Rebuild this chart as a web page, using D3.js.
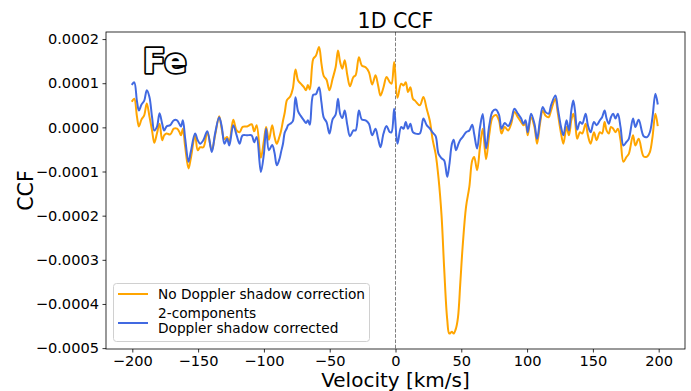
<!DOCTYPE html>
<html>
<head>
<meta charset="utf-8">
<script src="https://cdn.jsdelivr.net/npm/d3@7"></script>
<style>
  html, body { margin: 0; padding: 0; background: #fff; }
  svg { display: block; font-family: "DejaVu Sans", sans-serif; }
</style>
</head>
<body>
<svg id="chart" width="691" height="391"></svg>
<script>
// CCF values are stored in units of 1e-4
const UNIT = 1e-4;

const velocity = [
  -200,-198.5,-196.5,-195,-193,-191,-189,-187,-185,-183.3,
  -181.3,-179.3,-177.3,-175.8,-174,-171.2,-168.5,-166,-164.3,-163,
  -161.6,-159.8,-157.3,-155.6,-152.3,-150.3,-148.5,-146,-143,-139.6,
  -137.1,-134,-132,-130,-128,-126.3,-123.3,-120.7,-118.5,-116.2,
  -112.8,-109.3,-107.4,-105.5,-102.3,-100,-98.3,-96.2,-93.7,-91.9,
  -90.2,-88.1,-86.9,-85.5,-84.2,-82.6,-81.6,-80,-78,-76,
  -74,-72,-69.6,-68,-66.6,-65.1,-62.5,-60.5,-58.1,-56.3,
  -54.5,-52.4,-50.2,-47.8,-45.5,-43.7,-42.1,-40.4,-38.6,-36.6,
  -34.6,-32,-30.3,-27.8,-25.6,-22.7,-20.2,-17.7,-15.2,-13.2,
  -11.4,-9.1,-6.8,-4.3,-3,-1,1.5,4.3,6.1,7.8,
  9.5,11.3,13.2,15,18.5,21.2,23.7,26,28.3,30.5,
  32.7,35,37,39.3,40.9,42.9,44.2,46,47.5,49.3,
  51,53.6,56.1,58.3,59.8,62,64.2,66.3,68.8,71.3,
  73.8,76.4,78.7,80.6,83,85.6,87.9,90.4,93,95.5,
  97.2,98.8,100.5,103,105.6,107.6,109.8,111.9,113.9,116.4,
  118.2,121.5,123.2,125.8,127.6,130,131.8,133.6,135.1,136.4,
  138.1,140.2,141.9,144.5,146.2,148.3,150.8,152.8,155.3,157,
  158.9,160.4,162.1,163.7,165.4,167.2,169,171,173.2,175.5,
  177.3,180.5,182.3,184.8,188.6,191.2,193.3,195.3,197.5,199.2
];

const noCorrection = [
  0.60,0.65,0.25,0.02,0.18,0.27,0.54,0.25,-0.07,-0.35,
  -0.14,0.08,-0.29,-0.18,-0.14,-0.16,-0.03,-0.03,-0.10,-0.18,
  -0.03,-0.45,-0.93,-0.71,-0.18,-0.52,-0.45,-0.45,-0.11,-0.52,
  -0.18,0.25,-0.05,-0.27,-0.22,-0.33,0.17,-0.07,-0.11,0.01,
  0.02,0.07,-0.09,0.05,-0.69,-0.30,0.01,-0.28,0.05,-0.22,
  -0.37,-0.20,-0.07,0.15,0.33,0.61,0.65,0.70,0.88,1.31,
  1.06,0.99,0.91,0.84,0.96,0.86,1.55,1.62,1.82,1.45,
  1.16,1.08,0.84,1.10,1.36,1.74,1.48,1.33,1.52,1.18,
  0.93,1.14,1.18,1.59,1.40,1.36,1.25,0.97,1.18,0.95,
  0.72,0.91,1.14,1.02,0.99,1.48,0.67,0.99,0.95,1.02,
  0.80,0.91,0.65,0.60,0.50,0.69,0.42,0.16,-0.29,-0.60,
  -1.15,-2.00,-3.20,-4.35,-4.67,-4.63,-4.67,-4.55,-4.30,-3.50,
  -2.71,-1.80,-1.35,-0.75,-0.67,-0.97,-0.45,-0.03,-0.72,-0.15,
  0.23,0.28,0.15,-0.14,0.01,-0.07,0.08,0.35,0.23,0.12,
  0.05,0.08,-0.18,0.23,0.01,-0.37,0.08,0.38,0.27,0.23,
  0.38,0.65,0.35,-0.14,-0.37,0.01,-0.18,0.16,0.31,0.16,
  -0.26,-0.11,-0.14,0.08,-0.18,-0.37,-0.11,-0.29,-0.11,-0.14,
  0.12,-0.07,-0.14,0.01,-0.03,-0.11,-0.03,-0.29,-0.78,-0.67,
  -0.60,-0.18,-0.41,-0.26,-0.66,-0.66,-0.56,-0.22,0.31,0.05
];

const shadowCorrected = [
  0.98,1.02,0.60,0.38,0.52,0.60,0.84,0.69,0.23,-0.07,
  0.01,0.32,0.08,-0.07,0.02,0.05,0.16,0.16,0.08,0.02,
  0.16,-0.26,-0.78,-0.56,-0.14,-0.29,-0.37,-0.29,-0.09,-0.56,
  -0.14,0.23,0.01,-0.37,-0.26,-0.41,0.05,-0.18,-0.37,-0.18,
  -0.18,-0.18,-0.34,-0.22,-1.01,-0.60,-0.03,-0.52,-0.40,-0.58,
  -0.86,-0.71,-0.55,-0.37,-0.12,-0.02,0.05,0.08,0.14,0.68,
  0.36,0.26,0.16,0.10,0.16,0.06,0.74,0.75,0.91,0.57,
  0.22,0.12,-0.14,0.18,0.29,0.65,0.31,0.21,0.38,0.05,
  -0.20,-0.07,-0.07,0.38,0.18,0.16,0.08,-0.18,-0.03,-0.26,
  -0.45,-0.14,0.03,-0.11,-0.11,0.42,-0.37,0.01,-0.03,0.12,
  -0.03,0.08,-0.11,-0.14,-0.14,0.20,0.05,-0.02,-0.12,-0.20,
  -0.60,-0.70,-0.75,-1.12,-0.85,-0.37,-0.28,-0.52,-0.40,-0.28,
  -0.22,-0.11,-0.07,0.06,-0.15,-0.48,0.00,0.30,-0.48,0.05,
  0.36,0.40,0.28,-0.03,0.10,0.03,0.16,0.42,0.31,0.20,
  0.08,0.16,-0.11,0.31,0.08,-0.26,0.16,0.46,0.35,0.31,
  0.50,0.72,0.46,0.01,-0.18,0.16,-0.07,0.38,0.61,0.38,
  -0.05,0.12,0.08,0.31,0.05,-0.11,0.12,0.05,0.16,0.23,
  0.38,0.20,0.08,0.23,0.31,0.20,0.31,0.01,-0.41,-0.33,
  -0.26,0.20,0.01,0.17,-0.20,-0.22,-0.11,0.23,0.76,0.54
];

const xTicks = [-200, -150, -100, -50, 0, 50, 100, 150, 200];
const yTicks = [0.0002, 0.0001, 0, -0.0001, -0.0002, -0.0003, -0.0004, -0.0005];

const seriesList = [
  { label: ["No Doppler shadow correction"], values: noCorrection, color: "#FFA500" },
  { label: ["2-components", "Doppler shadow corrected"], values: shadowCorrected, color: "#4169E1" }
];

const svg = d3.select("#chart");
const W = 691, H = 391;
const m = { left: 106, right: W - 685, top: 32, bottom: H - 349 };

const x = d3.scaleLinear().domain([-220, 220]).range([m.left, W - m.right]);
const y = d3.scaleLinear().domain([-0.000502, 0.000216]).range([H - m.bottom, m.top]);

const fmtY = d => (d === 0 ? "0.0000" : d3.format(".4f")(d)).replace("-", "\u2212");
const fmtX = d => String(d).replace("-", "\u2212");

// clip for the data lines
svg.append("defs").append("clipPath").attr("id", "plot-clip")
  .append("rect")
  .attr("x", m.left).attr("y", m.top)
  .attr("width", W - m.left - m.right).attr("height", H - m.top - m.bottom);

// zero-velocity marker
svg.append("line")
  .attr("x1", x(0)).attr("x2", x(0))
  .attr("y1", m.top).attr("y2", H - m.bottom)
  .attr("stroke", "#808080").attr("stroke-width", 1)
  .attr("stroke-dasharray", "3.7,1.6");

const line = d3.line()
  .x((d, i) => x(velocity[i]))
  .y(d => y(d * UNIT))
  .curve(d3.curveCatmullRom.alpha(0.5));

const plot = svg.append("g").attr("clip-path", "url(#plot-clip)");
seriesList.forEach(s => {
  plot.append("path")
    .datum(s.values)
    .attr("d", line)
    .attr("fill", "none")
    .attr("stroke", s.color)
    .attr("stroke-width", 2)
    .attr("stroke-linejoin", "round")
    .attr("stroke-linecap", "square");
});

// axes
const xAxis = d3.axisBottom(x).tickValues(xTicks).tickFormat(fmtX).tickSizeInner(3.5).tickSizeOuter(0).tickPadding(3);
const yAxis = d3.axisLeft(y).tickValues(yTicks).tickFormat(fmtY).tickSizeInner(3.5).tickSizeOuter(0).tickPadding(3.5);

const gx = svg.append("g").attr("transform", `translate(0,${H - m.bottom})`).call(xAxis);
const gy = svg.append("g").attr("transform", `translate(${m.left},0)`).call(yAxis);
[gx, gy].forEach(g => {
  g.select(".domain").remove();
  g.selectAll(".tick line").attr("stroke", "#000").attr("stroke-width", 0.8);
  g.selectAll(".tick text").attr("fill", "#000").attr("font-size", 14.6)
    .attr("font-family", "DejaVu Sans, sans-serif");
});

// frame
svg.append("rect")
  .attr("x", m.left).attr("y", m.top)
  .attr("width", W - m.left - m.right).attr("height", H - m.top - m.bottom)
  .attr("fill", "none").attr("stroke", "#000").attr("stroke-width", 0.8);

// title and axis labels
svg.append("text")
  .attr("x", (m.left + W - m.right) / 2).attr("y", 28)
  .attr("text-anchor", "middle").attr("font-size", 20.5).text("1D CCF");

svg.append("text")
  .attr("x", (m.left + W - m.right) / 2).attr("y", 387)
  .attr("text-anchor", "middle").attr("font-size", 20).text("Velocity [km/s]");

svg.append("text")
  .attr("transform", `translate(33,${(m.top + H - m.bottom) / 2}) rotate(-90)`)
  .attr("text-anchor", "middle").attr("font-size", 20.5).text("CCF");

// element tag
svg.append("text")
  .attr("x", 143).attr("y", 73)
  .attr("font-size", 33).attr("font-weight", "bold")
  .attr("fill", "#fff").attr("stroke", "#000").attr("stroke-width", 3.5)
  .attr("paint-order", "stroke").attr("stroke-linejoin", "round")
  .text("Fe");

// legend
const lg = svg.append("g");
lg.append("rect")
  .attr("x", 113.5).attr("y", 283.5).attr("width", 256).attr("height", 58)
  .attr("rx", 3).attr("fill", "#fff").attr("fill-opacity", 0.8)
  .attr("stroke", "#d0d0d0").attr("stroke-width", 1);

const legendRows = [
  { lineY: 294, textY: [299] },
  { lineY: 323, textY: [318, 333] }
];
seriesList.forEach((s, i) => {
  const r = legendRows[i];
  lg.append("line")
    .attr("x1", 118).attr("x2", 148).attr("y1", r.lineY).attr("y2", r.lineY)
    .attr("stroke", s.color).attr("stroke-width", 2);
  s.label.forEach((t, j) => {
    lg.append("text")
      .attr("x", 158).attr("y", r.textY[j])
      .attr("font-size", 13.7).attr("fill", "#000").text(t);
  });
});
</script>
</body>
</html>
